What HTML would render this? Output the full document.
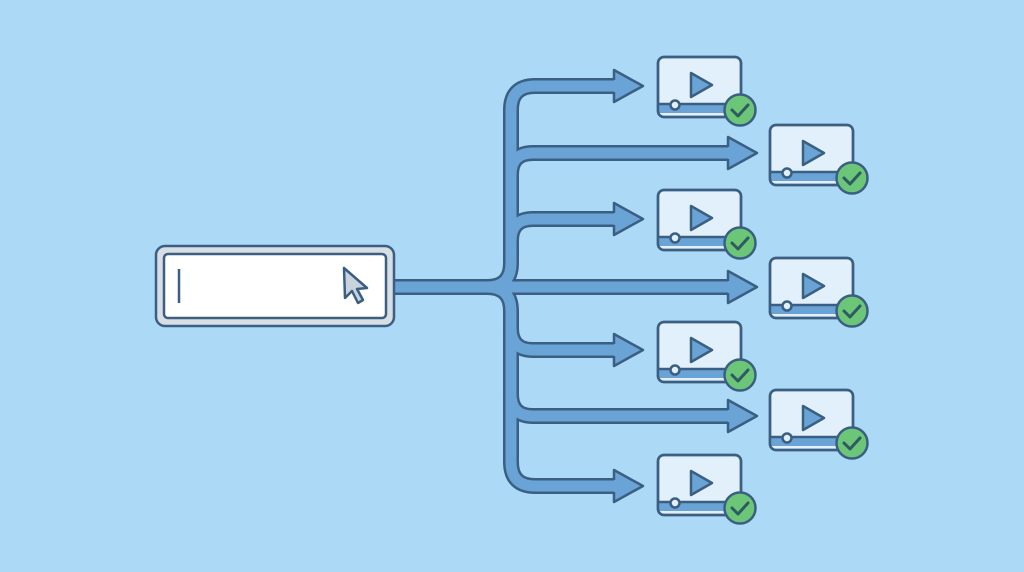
<!DOCTYPE html>
<html><head><meta charset="utf-8"><style>
html,body{margin:0;padding:0;width:1024px;height:572px;overflow:hidden;background:#acd9f6;}
</style></head><body>
<svg width="1024" height="572" viewBox="0 0 1024 572" xmlns="http://www.w3.org/2000/svg">
<defs>
<g id="card">
  <rect x="0" y="0" width="83" height="60" rx="6" fill="#e2f0fb" stroke="#3b5f82" stroke-width="2.5"/>
  <rect x="1.5" y="47" width="80" height="9" fill="#6aa3d6"/>
  <line x1="1" y1="47" x2="82" y2="47" stroke="#3b5f82" stroke-width="2.5"/>
  <rect x="0" y="0" width="83" height="60" rx="6" fill="none" stroke="#3b5f82" stroke-width="2.5"/>
  <circle cx="17" cy="48" r="4.5" fill="#e2f0fb" stroke="#3b5f82" stroke-width="2.5"/>
  <path d="M33,16 L54,28 L33,40 Z" fill="#6aa3d6" stroke="#3b5f82" stroke-width="2.5" stroke-linejoin="round"/>
  <circle cx="82" cy="53" r="15.5" fill="#6cc678" stroke="#3b5f82" stroke-width="2.5"/>
  <path d="M74,53 L80,59 L90,48" fill="none" stroke="#2f5a63" stroke-width="3" stroke-linecap="round" stroke-linejoin="round"/>
</g>
</defs>
<g fill="none" stroke-linejoin="round">
<g stroke="#3b5f82" stroke-width="16">
  <path d="M394,287 L487,287 Q511,287 511,263 L511,110 Q511,86 535,86 L616,86"/>
  <path d="M394,287 L487,287 Q511,287 511,311 L511,462 Q511,486 535,486 L616,486"/>
  <path d="M487,287 L730,287"/>
  <path d="M511,175 Q511,153 533,153 L730,153"/>
  <path d="M511,241 Q511,219 533,219 L616,219"/>
  <path d="M511,328 Q511,350 533,350 L616,350"/>
  <path d="M511,394 Q511,416 533,416 L730,416"/>
</g>
<g stroke="#6aa3d6" stroke-width="11">
  <path d="M394,287 L487,287 Q511,287 511,263 L511,110 Q511,86 535,86 L618,86"/>
  <path d="M394,287 L487,287 Q511,287 511,311 L511,462 Q511,486 535,486 L618,486"/>
  <path d="M487,287 L732,287"/>
  <path d="M511,175 Q511,153 533,153 L732,153"/>
  <path d="M511,241 Q511,219 533,219 L618,219"/>
  <path d="M511,328 Q511,350 533,350 L618,350"/>
  <path d="M511,394 Q511,416 533,416 L732,416"/>
</g>
<g fill="#6aa3d6" stroke="#3b5f82" stroke-width="2.5">
  <path d="M614,80 L614,70 L643,86 L614,102 L614,92"/>
  <path d="M614,213 L614,203 L643,219 L614,235 L614,225"/>
  <path d="M614,344 L614,334 L643,350 L614,366 L614,356"/>
  <path d="M614,480 L614,470 L643,486 L614,502 L614,492"/>
  <path d="M728,147 L728,137 L757,153 L728,169 L728,159"/>
  <path d="M728,281 L728,271 L757,287 L728,303 L728,293"/>
  <path d="M728,410 L728,400 L757,416 L728,432 L728,422"/>
</g>
</g>
<rect x="156" y="246" width="238" height="80" rx="9" fill="#d9dee4" stroke="#3b5f82" stroke-width="2.5"/>
<rect x="164" y="254" width="222" height="64" rx="4" fill="#ffffff" stroke="#3b5f82" stroke-width="2.5"/>
<line x1="179" y1="269" x2="179" y2="303" stroke="#3b5f82" stroke-width="2.5"/>
<path d="M344,268 L345,298 L352,291 L358,303 L363,300 L357,289 L367,288 Z" fill="#c9d3de" stroke="#3b5f82" stroke-width="2.5" stroke-linejoin="round"/>
<use href="#card" x="658" y="57"/>
<use href="#card" x="658" y="190"/>
<use href="#card" x="658" y="322"/>
<use href="#card" x="658" y="455"/>
<use href="#card" x="770" y="125"/>
<use href="#card" x="770" y="258"/>
<use href="#card" x="770" y="390"/>
</svg>
</body></html>
